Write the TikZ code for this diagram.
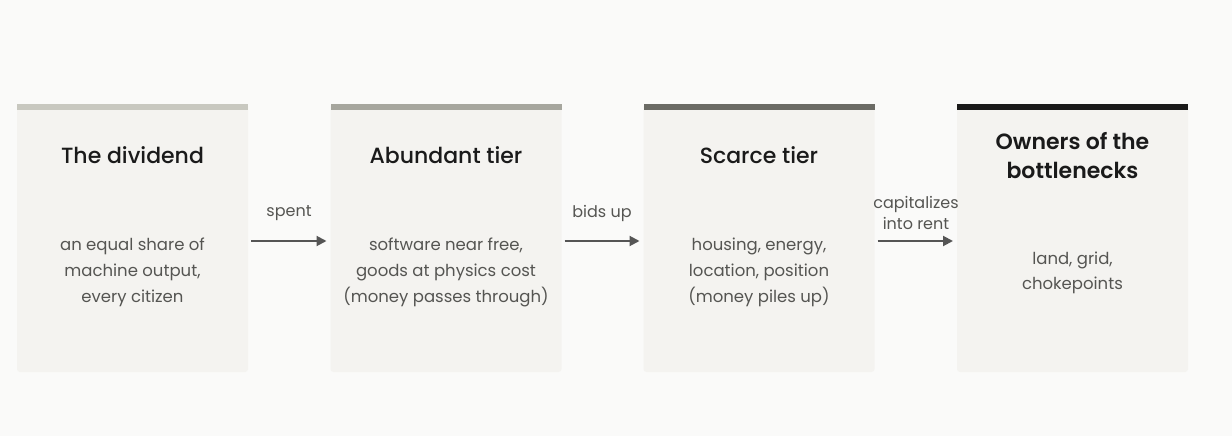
\documentclass[tikz,border=0pt]{standalone}
\usepackage{fontspec}
\setmainfont{Poppins}
\newfontface\titlefont{Poppins Medium}
\newfontface\titleboldfont{Poppins SemiBold}
\usetikzlibrary{arrows.meta}
\definecolor{bg}{HTML}{FAFAF9}
\definecolor{boxfill}{HTML}{F4F3F0}
\definecolor{barA}{HTML}{C8C8C0}
\definecolor{barB}{HTML}{A6A69E}
\definecolor{barC}{HTML}{6B6B65}
\definecolor{barD}{HTML}{1A1A1A}
\definecolor{titlec}{HTML}{1A1A1A}
\definecolor{bodyc}{HTML}{555552}
\definecolor{arrc}{HTML}{555555}
\tikzset{
  tierbox/.style={fill=boxfill, draw=none, rounded corners=3pt, minimum width=231pt, minimum height=268pt, inner sep=0pt, outer sep=0pt},
  tiertitle/.style={text=titlec, font=\titlefont\fontsize{22}{29}\selectfont, align=center, inner sep=0pt},
  tierbody/.style={text=bodyc, font=\fontsize{16.5}{26}\selectfont, align=center, inner sep=0pt},
  flowlabel/.style={text=bodyc, font=\fontsize{16}{21}\selectfont, align=center, inner sep=0pt},
  flowarrow/.style={draw=arrc, line width=2pt, -{Triangle[length=10pt,width=10pt]}, shorten <=3pt, shorten >=4pt},
}
\begin{document}
\begin{tikzpicture}[x=1pt,y=-1pt]
\useasboundingbox[fill=bg] (0,0) rectangle (1232,436);
% boxes
\node[tierbox] (b1) at (132.5,238) {};
\node[tierbox] (b2) at (446,238) {};
\node[tierbox] (b3) at (759,238) {};
\node[tierbox] (b4) at (1072.5,238) {};
% top bars
\fill[barA] (b1.north west) rectangle ([yshift=-6pt]b1.north east);
\fill[barB] (b2.north west) rectangle ([yshift=-6pt]b2.north east);
\fill[barC] (b3.north west) rectangle ([yshift=-6pt]b3.north east);
\fill[barD] (b4.north west) rectangle ([yshift=-6pt]b4.north east);
% titles
\node[tiertitle] (t1) at (132.5,155) {The dividend};
\node[tiertitle] (t2) at (446,155) {Abundant tier};
\node[tiertitle] (t3) at (759,155) {Scarce tier};
\node[tiertitle, font=\titleboldfont\fontsize{22}{29}\selectfont] (t4) at (1072.5,155.5) {Owners of the\\bottlenecks};
% bodies
\node[tierbody] (d1) at (132.5,272) {an equal share of\\machine output,\\every citizen};
\node[tierbody] (d2) at (446,272) {software near free,\\goods at physics cost\\(money passes through)};
\node[tierbody] (d3) at (759,272) {housing, energy,\\location, position\\(money piles up)};
\node[tierbody, font=\fontsize{16.5}{25}\selectfont] (d4) at (1072.5,272.5) {land, grid,\\chokepoints};
% arrows
\draw[flowarrow] ([yshift=-3pt]b1.east) -- ([yshift=-3pt]b2.west);
\draw[flowarrow] ([yshift=-3pt]b2.east) -- ([yshift=-3pt]b3.west);
\draw[flowarrow] ([yshift=-3pt]b3.east) -- ([yshift=-3pt]b4.west);
% labels
\node[flowlabel] (l1) at (289,213) {spent};
\node[flowlabel] (l2) at (602,213) {bids up};
\node[flowlabel] (l3) at (916,212.5) {capitalizes\\into rent};
\end{tikzpicture}
\end{document}
